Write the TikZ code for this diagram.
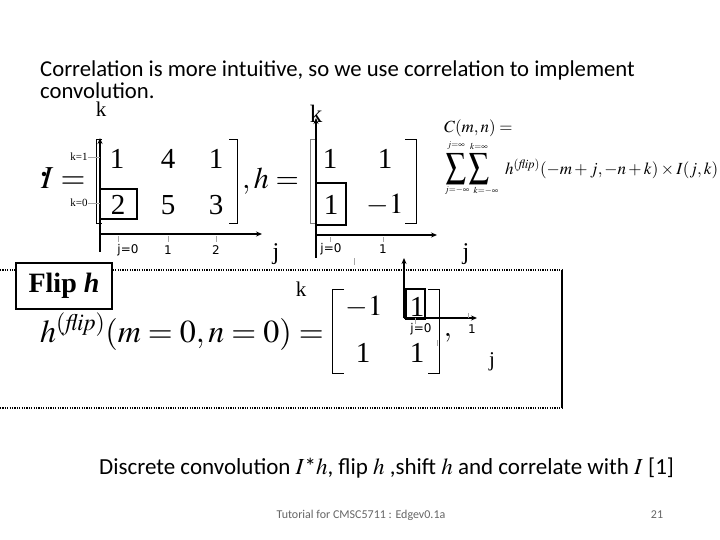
\documentclass[tikz,border=0pt]{standalone}
\usepackage{mathptmx}
\usepackage{fontspec}
\setmainfont{Liberation Serif}
\newfontfamily\carl{Carlito}
\newfontfamily\dvs{DejaVu Sans}
\newfontfamily\tms{Liberation Serif}
\usetikzlibrary{arrows.meta}
\tikzset{
  axis/.style={line width=1.6pt,-{Stealth[length=6pt,width=5pt]}},
  thinaxis/.style={line width=1.1pt,-{Stealth[length=6pt,width=5pt]}},
  brk/.style={line width=0.8pt},
  ent/.style={inner sep=0pt,font=\fontsize{29}{29}\selectfont},
  tickl/.style={gray!70,line width=0.6pt},
  lab/.style={inner sep=0pt,font=\dvs\fontsize{12}{12}\selectfont},
  klab/.style={inner sep=0pt,font=\tms\fontsize{11}{11}\selectfont},
  bigl/.style={inner sep=0pt,font=\tms\fontsize{24}{24}\selectfont},
  liml/.style={inner sep=0pt,font=\fontsize{9}{9}\selectfont},
  sigm/.style={inner sep=0pt,font=\fontsize{25}{25}\selectfont},
  hbox/.style={draw,line width=1.6pt},
  dotl/.style={line width=1.5pt,dash pattern=on 1.2pt off 1.2pt},
}
\begin{document}
\begin{tikzpicture}[x=1pt,y=-1pt]
\useasboundingbox (0,0) rectangle (720,540);
\fill[white] (0,0) rectangle (720,540);

% title
\node[inner sep=0,anchor=base west,font=\carl\fontsize{22.7}{22.7}\selectfont] (t1) at (40,77) {Correlation is more intuitive, so we use correlation to implement};
\node[inner sep=0,anchor=base west,font=\carl\fontsize{22.7}{22.7}\selectfont] (t2) at (40,99) {convolution.};

% k labels
\node[bigl,anchor=base,font=\tms\fontsize{21}{21}\selectfont] (kI) at (101,117) {k};
\node[bigl,anchor=base,font=\tms\fontsize{25}{25}\selectfont] (kh) at (316,123) {k};

% I matrix
\node[circle,fill,inner sep=0,minimum size=4.5pt] (bul) at (44,174) {};
\node[inner sep=0,anchor=base west,font=\fontsize{32}{32}\selectfont] (Ieq) at (41,189) {$I=$};
\node[ent] (i11) at (117,159) {1};
\node[ent] (i12) at (168,159) {4};
\node[ent] (i13) at (216,159) {1};
\node[ent] (i21) at (118,205) {2};
\node[ent] (i22) at (168,205) {5};
\node[ent] (i23) at (216,205) {3};
\draw[brk] (102,139) -- (96,139) -- (96,223) -- (102,223);
\draw[brk] (229,139) -- (237,139) -- (237,223) -- (229,223);
\draw[hbox] (100,189) rectangle (137,219);
\coordinate (Io) at (100,234);
\coordinate (Itop) at (100,138);
\coordinate (Ibot) at (100,252);
\coordinate (Iright) at (262,234);
\draw[line width=1.6pt] (Io) -- (Ibot);
\draw[axis] (Io) -- (Itop);
\draw[axis] (Io) -- (Iright);
\draw[tickl] (118,236) -- (118,242);
\draw[tickl] (168,236) -- (168,242);
\draw[tickl] (216,236) -- (216,242);
\node[lab] (Ij0) at (128,250) {j=0};
\node[lab] (Ij1) at (168,250) {1};
\node[lab] (Ij2) at (216,250) {2};
\node[bigl,anchor=base] (jI) at (276,259) {j};
\node[klab] (k1) at (79,157) {k=1};
\node[klab] (k0) at (79,203) {k=0};
\draw[tickl] (k1.east) -- (100,157);
\draw[tickl] (k0.east) -- (100,203);

% h matrix
\node[inner sep=0,anchor=base west,font=\fontsize{30}{30}\selectfont] (heq) at (242,189) {$,h=$};
\node[ent] (h11) at (330,159) {1};
\node[ent] (h12) at (385,159) {1};
\node[ent] (h21) at (331,205) {1};
\node[ent] (h22) at (385,205) {$-1$};
\draw[brk,gray] (316,139) -- (310,139) -- (310,223) -- (316,223);
\draw[brk] (405,139) -- (416,139) -- (416,223) -- (405,223);
\draw[hbox] (316,183) rectangle (346,225);
\coordinate (ho) at (316,235);
\coordinate (htop) at (316,118);
\coordinate (hbot) at (316,258);
\coordinate (hright) at (437,235);
\draw[line width=1.6pt] (ho) -- (hbot);
\draw[axis] (ho) -- (htop);
\draw[axis] (ho) -- (hright);
\draw[tickl] (330,237) -- (330,242);
\draw[tickl] (383,237) -- (383,242);
\node[lab] (hj0) at (331,249) {j=0};
\node[lab] (hj1) at (383,249) {1};
\node[bigl,anchor=base] (jh) at (466,259) {j};
\draw[tickl] (354,258) -- (354,265);

% correlation formula
\node[inner sep=0,anchor=west,font=\fontsize{17}{17}\selectfont] (Cmn) at (444,128) {$C(m,n)=$};
\node[sigm] (s1) at (456,169) {\scalebox{0.8}[1]{$\displaystyle\sum$}};
\node[sigm] (s2) at (479,169) {\scalebox{0.8}[1]{$\displaystyle\sum$}};
\node[liml] (s1t) at (456,146) {$j{=}\infty$};
\node[liml] (s1b) at (457,191) {$j{=}{-}\infty$};
\node[liml] (s2t) at (479,146) {$k{=}\infty$};
\node[liml] (s2b) at (486,191) {$k{=}{-}\infty$};
\node[inner sep=0,anchor=base west,font=\fontsize{17}{17}\selectfont] (sum) at (505,175)
  {$h^{(\mathit{flip})}(-m+j,-n+k)\times I(j,k)$};

% flip frame
\coordinate (fTL) at (0,270);
\coordinate (fTR) at (562,270);
\coordinate (fBL) at (0,408);
\coordinate (fBR) at (562,408);
\draw[dotl] (fTL) -- (fTR);
\draw[dotl] (fBL) -- (fBR);
\draw[line width=2pt] (fTR) -- (fBR);
\node[draw,line width=1.6pt,fill=white,minimum width=96pt,minimum height=46pt,inner sep=0,font=\tms\bfseries\fontsize{28}{28}\selectfont] (flip) at (64,286) {Flip \textit{h}};

\node[inner sep=0,anchor=base west,font=\fontsize{32}{32}\selectfont] (hflip) at (40,342) {$h^{(\mathit{flip})}(m=0,n=0)=$};
\node[bigl,anchor=base,font=\tms\fontsize{21}{21}\selectfont] (kf) at (301,296) {k};
\node[ent] (f11) at (364,307) {$-1$};
\node[ent] (f12) at (417,307) {1};
\node[ent] (f21) at (363,353) {1};
\node[ent] (f22) at (417,353) {1};
\draw[brk] (344,289) -- (332,289) -- (332,373) -- (344,373);
\draw[brk] (428,289) -- (439,289) -- (439,373) -- (428,373);
\node[inner sep=0,font=\fontsize{29}{29}\selectfont] (fcomma) at (448,338) {$,$};
\draw[hbox] (406,289) rectangle (425,319);
\coordinate (fo) at (404,318);
\coordinate (ftop) at (404,258);
\coordinate (fright) at (477,318);
\draw[thinaxis] (fo) -- (ftop);
\draw[axis] (fo) -- (fright);
\draw[tickl] (468,313) -- (468,318);
\draw[tickl] (415,318) -- (415,324);
\draw[tickl] (437,340) -- (437,346);
\node[lab] (fj0) at (421,329) {j=0};
\node[lab] (fj1) at (472,329) {1};
\node[bigl,anchor=base,font=\tms\fontsize{21}{21}\selectfont] (jf) at (492,366) {j};

% caption and footer
\node[inner sep=0,anchor=base west,font=\carl\fontsize{23}{23}\selectfont] (cap) at (99,474)
  {Discrete convolution $I$*$h$, flip $h$ ,shift $h$ and correlate with $I$ [1]};
\node[inner sep=0,font=\carl\fontsize{12}{12}\selectfont,text=gray!80!black] (foot) at (361,515) {Tutorial for CMSC5711 : Edgev0.1a};
\node[inner sep=0,font=\carl\fontsize{12}{12}\selectfont,text=gray!80!black] (pg) at (657,515) {21};
\end{tikzpicture}
\end{document}
